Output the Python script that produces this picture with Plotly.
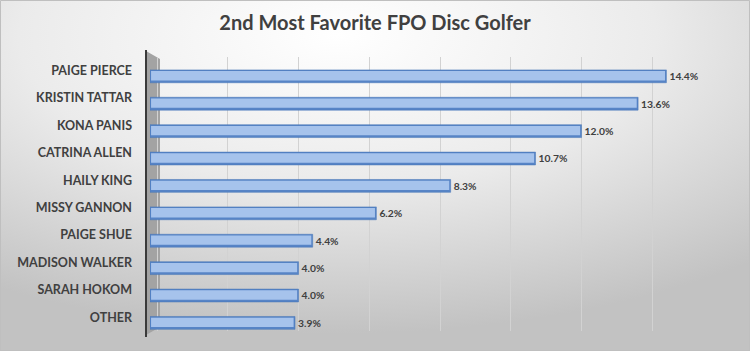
import plotly.graph_objects as go

names = ["PAIGE PIERCE", "KRISTIN TATTAR", "KONA PANIS", "CATRINA ALLEN", "HAILY KING",
         "MISSY GANNON", "PAIGE SHUE", "MADISON WALKER", "SARAH HOKOM", "OTHER"]
values = [14.4, 13.6, 12.0, 10.7, 8.3, 6.2, 4.4, 4.0, 4.0, 3.9]
labels = [f"{v:.1f}%" for v in values]

bg_svg = (
    "data:image/svg+xml;utf8,"
    "<svg xmlns='http://www.w3.org/2000/svg' width='750' height='351'>"
    "<defs><radialGradient id='g' cx='45%' cy='10%' r='85%'>"
    "<stop offset='0%' stop-color='%23ffffff'/>"
    "<stop offset='50%' stop-color='%23ebebeb'/>"
    "<stop offset='100%' stop-color='%23c2c2c2'/>"
    "</radialGradient></defs>"
    "<rect width='750' height='351' fill='url(%23g)'/></svg>"
)

L, R, T, B = 150, 27, 57, 20
PW, PH = 750 - L - R, 351 - T - B
START = -0.2  # 3D front face starts slightly left of zero

fig = go.Figure()
# main bar body (dark outline)
fig.add_trace(go.Bar(
    y=names, x=[v - START for v in values], base=START, orientation="h",
    width=0.47, offset=-0.03,
    marker=dict(color="#5784c6", line=dict(color="#4474b6", width=0.5)),
    text=labels, textposition="outside",
    textfont=dict(family="Lato", size=12, color="#404040", weight="bold"),
    cliponaxis=False, hoverinfo="skip",
))
# light face
fig.add_trace(go.Bar(
    y=names, x=[v - START - 0.07 for v in values], base=START + 0.03, orientation="h",
    width=0.34, offset=0.015,
    marker=dict(color="#a6c3ec", line=dict(width=0)),
    hoverinfo="skip",
))

fig.update_layout(
    width=750, height=351,
    barmode="overlay",
    showlegend=False,
    paper_bgcolor="rgba(0,0,0,0)",
    plot_bgcolor="rgba(0,0,0,0)",
    margin=dict(l=L, r=R, t=T, b=B),
    title=dict(text="<b>2nd Most Favorite FPO Disc Golfer</b>", x=0.5, xanchor="center",
               y=0.935, yanchor="middle",
               font=dict(family="Lato", size=20, color="#404040")),
    xaxis=dict(range=[START, 16], tick0=0, dtick=2, showticklabels=False, showgrid=True,
               gridcolor="#d2d2d2", gridwidth=1, zeroline=False, fixedrange=True),
    yaxis=dict(autorange="reversed", showgrid=False, ticks="", ticklabelstandoff=17,
               tickfont=dict(family="Lato", size=12.5, color="#404040", weight="bold")),
    images=[dict(source=bg_svg, xref="paper", yref="paper", x=-L / PW, y=1 + T / PH,
                 sizex=750 / PW, sizey=351 / PH,
                 xanchor="left", yanchor="top", sizing="stretch", layer="below")],
    shapes=[
        # 3D left wall
        dict(type="path", xref="paper", yref="paper",
             path=f"M {-4/PW} {1 + 6/PH} L {10/PW} {1 - 2/PH} L {10/PW} {4/PH} L {-4/PW} {-4/PH} Z",
             fillcolor="#a3a3a3", line=dict(width=0), layer="below"),
        dict(type="line", xref="paper", yref="paper", x0=-4 / PW, x1=-4 / PW,
             y0=-6 / PH, y1=1 + 7 / PH,
             line=dict(color="#3a3a3a", width=2)),
        # outer border
        dict(type="rect", xref="paper", yref="paper", x0=-L / PW + 0.5 / PW, x1=1 + R / PW - 0.5 / PW,
             y0=-B / PH + 0.5 / PH, y1=1 + T / PH - 0.5 / PH, line=dict(color="#bfbfbf", width=1)),
    ],
)

fig.write_html("out.html")
